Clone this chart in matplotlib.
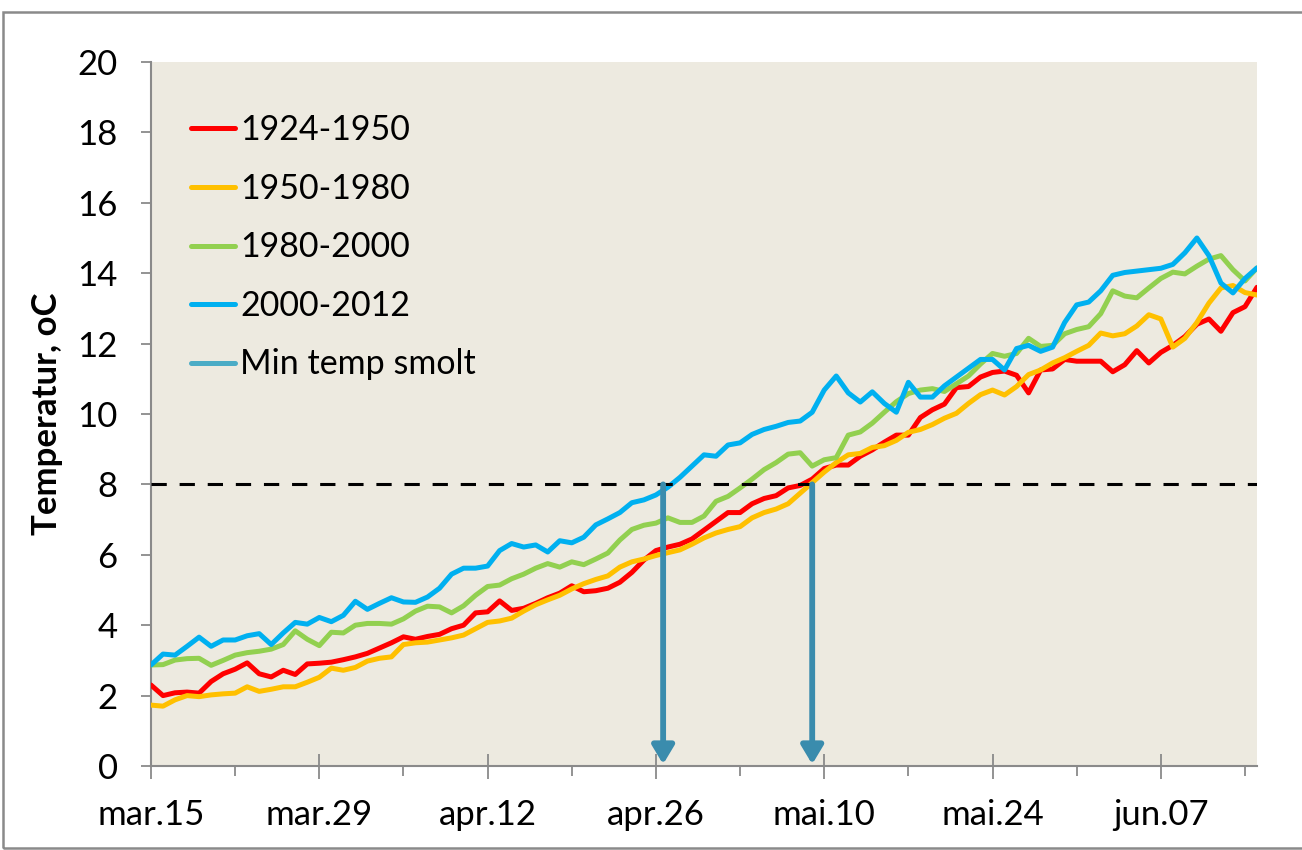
import numpy as np
import matplotlib.pyplot as plt
from matplotlib.patches import Rectangle, FancyArrowPatch
from matplotlib.lines import Line2D

plt.rcParams['font.family'] = ['Lato', 'DejaVu Sans']

# days after mar.15
days = np.arange(93)

t_1924_1950 = [2.30, 2.00, 2.08, 2.10, 2.07, 2.40, 2.62, 2.75, 2.93, 2.62,
               2.53, 2.72, 2.60, 2.90, 2.92, 2.95, 3.02, 3.10, 3.20, 3.35,
               3.50, 3.67, 3.60, 3.68, 3.74, 3.90, 4.00, 4.35, 4.38, 4.69,
               4.42, 4.48, 4.62, 4.78, 4.91, 5.12, 4.95, 4.98, 5.05, 5.22,
               5.50, 5.85, 6.12, 6.22, 6.30, 6.45, 6.70, 6.95, 7.20, 7.20,
               7.45, 7.60, 7.68, 7.90, 7.97, 8.15, 8.45, 8.55, 8.55, 8.80,
               8.98, 9.20, 9.40, 9.40, 9.90, 10.12, 10.28, 10.75, 10.78, 11.05,
               11.18, 11.22, 11.10, 10.60, 11.25, 11.28, 11.55, 11.50, 11.50, 11.50,
               11.20, 11.40, 11.80, 11.45, 11.75, 11.95, 12.20, 12.55, 12.70, 12.35,
               12.88, 13.05, 13.60]

t_1950_1980 = [1.73, 1.70, 1.88, 2.00, 1.97, 2.02, 2.05, 2.07, 2.25, 2.12,
               2.18, 2.25, 2.25, 2.38, 2.52, 2.78, 2.72, 2.80, 2.98, 3.06,
               3.10, 3.45, 3.50, 3.52, 3.58, 3.64, 3.72, 3.90, 4.08, 4.12,
               4.20, 4.40, 4.58, 4.72, 4.85, 5.03, 5.18, 5.30, 5.40, 5.65,
               5.80, 5.88, 5.98, 6.06, 6.14, 6.30, 6.48, 6.62, 6.72, 6.80,
               7.05, 7.20, 7.30, 7.45, 7.75, 8.05, 8.35, 8.62, 8.84, 8.88,
               9.05, 9.10, 9.25, 9.48, 9.56, 9.70, 9.88, 10.02, 10.30, 10.55,
               10.68, 10.54, 10.78, 11.12, 11.25, 11.45, 11.60, 11.78, 11.95, 12.30,
               12.22, 12.28, 12.50, 12.82, 12.70, 11.90, 12.15, 12.60, 13.15, 13.58,
               13.65, 13.45, 13.38]

t_1980_2000 = [2.87, 2.88, 3.01, 3.05, 3.06, 2.86, 3.00, 3.15, 3.22, 3.26,
               3.32, 3.45, 3.84, 3.60, 3.42, 3.80, 3.78, 4.00, 4.05, 4.05,
               4.03, 4.18, 4.40, 4.54, 4.52, 4.35, 4.55, 4.85, 5.10, 5.14,
               5.32, 5.45, 5.62, 5.75, 5.65, 5.80, 5.72, 5.88, 6.05, 6.42,
               6.72, 6.84, 6.90, 7.05, 6.92, 6.92, 7.10, 7.52, 7.66, 7.90,
               8.15, 8.42, 8.62, 8.86, 8.90, 8.52, 8.70, 8.76, 9.40, 9.49,
               9.74, 10.05, 10.35, 10.58, 10.68, 10.72, 10.64, 10.86, 11.08, 11.42,
               11.72, 11.64, 11.72, 12.15, 11.92, 11.95, 12.28, 12.40, 12.48, 12.85,
               13.50, 13.35, 13.30, 13.58, 13.85, 14.03, 13.98, 14.20, 14.40, 14.50,
               14.10, 13.78, 14.15]

t_2000_2012 = [2.87, 3.18, 3.15, 3.40, 3.66, 3.40, 3.58, 3.58, 3.70, 3.76,
               3.45, 3.78, 4.08, 4.03, 4.22, 4.10, 4.28, 4.68, 4.45, 4.62,
               4.78, 4.66, 4.65, 4.80, 5.05, 5.45, 5.62, 5.62, 5.68, 6.12,
               6.32, 6.22, 6.28, 6.08, 6.40, 6.34, 6.50, 6.85, 7.02, 7.20,
               7.48, 7.56, 7.70, 7.92, 8.20, 8.52, 8.84, 8.80, 9.12, 9.18,
               9.42, 9.56, 9.65, 9.76, 9.80, 10.05, 10.68, 11.08, 10.60, 10.34,
               10.63, 10.30, 10.05, 10.90, 10.48, 10.48, 10.80, 11.05, 11.30, 11.55,
               11.55, 11.25, 11.86, 11.95, 11.78, 11.90, 12.60, 13.10, 13.18, 13.50,
               13.94, 14.02, 14.06, 14.10, 14.14, 14.25, 14.58, 15.00, 14.50, 13.72,
               13.44, 13.85, 14.15]

min_temp_smolt = 8
arrow_days = [42.6, 55.0]

series_labels = ['1924-1950', '1950-1980', '1980-2000', '2000-2012']
series_colors = ['#FF0000', '#FFC000', '#92D050', '#00B0F0']
smolt_color = '#4BACC6'
arrow_color = '#3A8CAD'

tick_days = [0, 14, 28, 42, 56, 70, 84]
tick_labels = ['mar.15', 'mar.29', 'apr.12', 'apr.26', 'mai.10', 'mai.24', 'jun.07']
minor_days = [7, 21, 35, 49, 63, 77, 91]

fig = plt.figure(figsize=(13.02, 8.5), dpi=100)
ax = fig.add_axes([151 / 1302, 84 / 850, 1106 / 1302, 704 / 850])
ax.set_facecolor('#EDEAE0')

# outer frame
fig.patches.append(Rectangle((3 / 1302, 2 / 850), 1.0, 836 / 850, transform=fig.transFigure,
                             fill=False, edgecolor='#8A8A8A', lw=1.8))

for vals, lab, col in zip([t_1924_1950, t_1950_1980, t_1980_2000, t_2000_2012],
                          series_labels, series_colors):
    ax.plot(days, vals, color=col, lw=3.6, solid_joinstyle='round',
            solid_capstyle='round', label=lab, zorder=3)

ax.axhline(min_temp_smolt, color='black', lw=2.2, dashes=(5, 4.2), zorder=4)

for d in arrow_days:
    ax.add_patch(FancyArrowPatch((d, min_temp_smolt), (d, 0.05),
                                 arrowstyle='-|>,head_length=0.55,head_width=0.33',
                                 mutation_scale=20, color=arrow_color, lw=4.2,
                                 shrinkA=0, shrinkB=0, zorder=5))

handles, labels = ax.get_legend_handles_labels()
handles.append(Line2D([], [], color=smolt_color, lw=3.6, solid_capstyle='round'))
labels.append('Min temp smolt')
ax.legend(handles, labels, loc='upper left', bbox_to_anchor=(0.024, 0.945), frameon=False,
          fontsize=24.5, handlelength=1.3, handletextpad=0.15, labelspacing=0.78,
          borderaxespad=0)

ax.set_xlim(0, 92)
ax.set_ylim(0, 20)
ax.set_yticks(range(0, 21, 2))
ax.set_xticks(tick_days)
ax.set_xticklabels(tick_labels)
ax.set_xticks(minor_days, minor=True)

for s in ['top', 'right']:
    ax.spines[s].set_visible(False)
for s in ['left', 'bottom']:
    ax.spines[s].set_color('#8A8A8A')
    ax.spines[s].set_linewidth(1.5)

ax.tick_params(axis='y', direction='out', length=7, width=1.3, color='#8A8A8A',
               labelsize=25, pad=17)
ax.tick_params(axis='x', which='major', direction='inout', length=18, width=1.3,
               color='#8A8A8A', labelsize=25, pad=15)
ax.tick_params(axis='x', which='minor', direction='out', length=7, width=1.3,
               color='#8A8A8A')

ax.set_ylabel('Temperatur, oC', fontsize=25, fontweight='bold', labelpad=10)

fig.savefig('out.png', dpi=100)
